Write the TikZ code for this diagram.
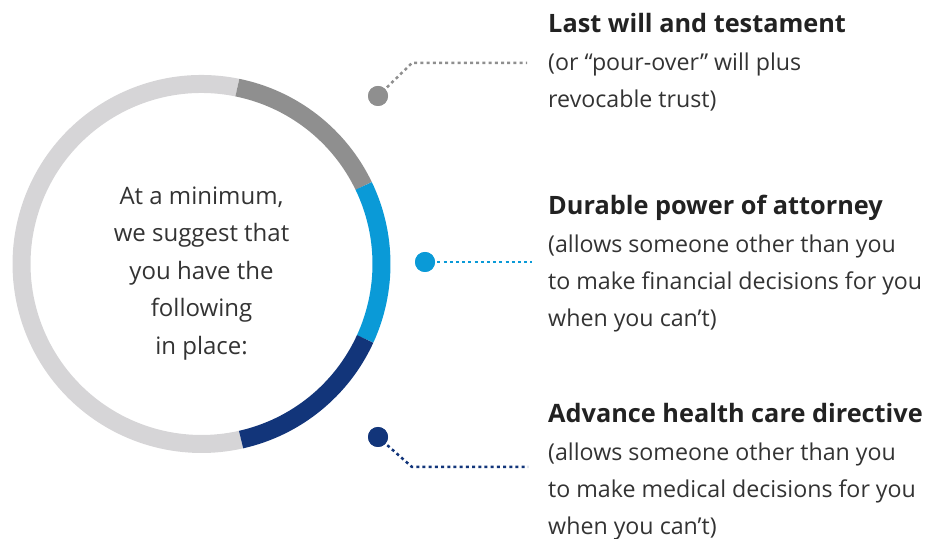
\documentclass[tikz,border=0pt]{standalone}
\usepackage{fontspec}
\setmainfont{Open Sans}
\definecolor{ringlight}{HTML}{D6D5D7}
\definecolor{ringgrey}{HTML}{8F8F8F}
\definecolor{ringblue}{HTML}{0A9AD7}
\definecolor{ringnavy}{HTML}{12357A}
\definecolor{txt}{HTML}{333333}
\definecolor{headtxt}{HTML}{222222}
\tikzset{
  ring/.style={line width=18pt},
  dot/.style={circle, fill=#1, minimum size=20pt, inner sep=0pt},
  leader/.style={draw=#1, line width=2.5pt, dash pattern=on 3pt off 3.2pt},
  body/.style={anchor=base west, inner sep=0pt, text=txt, font=\fontsize{23.2pt}{37pt}\selectfont},
  head/.style={anchor=base west, inner sep=0pt, text=headtxt, font=\fontsize{25.3pt}{37pt}\selectfont\bfseries},
  mid/.style={anchor=base, inner sep=0pt, text=txt, font=\fontsize{24pt}{37pt}\selectfont},
}
\begin{document}
\begin{tikzpicture}[x=1pt,y=1pt]
\useasboundingbox (0,0) rectangle (942,538);
\coordinate (c) at (201.5,274);
% ring
\draw[ring, ringlight] ([shift={(78.5:180)}]c) arc[start angle=78.5, end angle=282.7, radius=180];
\draw[ring, ringgrey] ([shift={(78.5:180)}]c) arc[start angle=78.5, end angle=25.7, radius=180];
\draw[ring, ringblue] ([shift={(25.7:180)}]c) arc[start angle=25.7, end angle=-24.6, radius=180];
\draw[ring, ringnavy] ([shift={(-24.6:180)}]c) arc[start angle=-24.6, end angle=-77.3, radius=180];
% center text
\node[mid] (m1) at (201.5,333) {At a minimum,};
\node[mid] (m2) at (201.5,296) {we suggest that};
\node[mid] (m3) at (201.5,258) {you have the};
\node[mid] (m4) at (201.5,221) {following};
\node[mid] (m5) at (201.5,183) {in place:};
% dots and leaders
\node[dot=ringgrey] (d1) at (378,442) {};
\coordinate (k1) at (412,475);
\coordinate (e1) at (527,475);
\draw[leader=ringgrey] (d1.center) -- (k1) -- (e1);
\node[dot=ringblue] (d2) at (425,276) {};
\coordinate (e2) at (532,276);
\draw[leader=ringblue] (d2.center) -- (e2);
\node[dot=ringnavy] (d3) at (378,101) {};
\coordinate (k3) at (412,71);
\coordinate (e3) at (528,71);
\draw[leader=ringnavy] (d3.center) -- (k3) -- (e3);
\node[dot=ringgrey] at (d1) {};
\node[dot=ringblue] at (d2) {};
\node[dot=ringnavy] at (d3) {};
% block 1
\node[head] (h1) at (548,505) {Last will and testament};
\node[body] (b1a) at (548,467) {(or “pour-over” will plus};
\node[body] (b1b) at (548,430) {revocable trust)};
% block 2
\node[head] (h2) at (548,323) {Durable power of attorney};
\node[body] (b2a) at (548,285) {(allows someone other than you};
\node[body] (b2b) at (548,248) {to make financial decisions for you};
\node[body] (b2c) at (548,211) {when you can’t)};
% block 3
\node[head] (h3) at (548,115) {Advance health care directive};
\node[body] (b3a) at (548,77) {(allows someone other than you};
\node[body] (b3b) at (548,40) {to make medical decisions for you};
\node[body] (b3c) at (548,4) {when you can’t)};
\end{tikzpicture}
\end{document}
